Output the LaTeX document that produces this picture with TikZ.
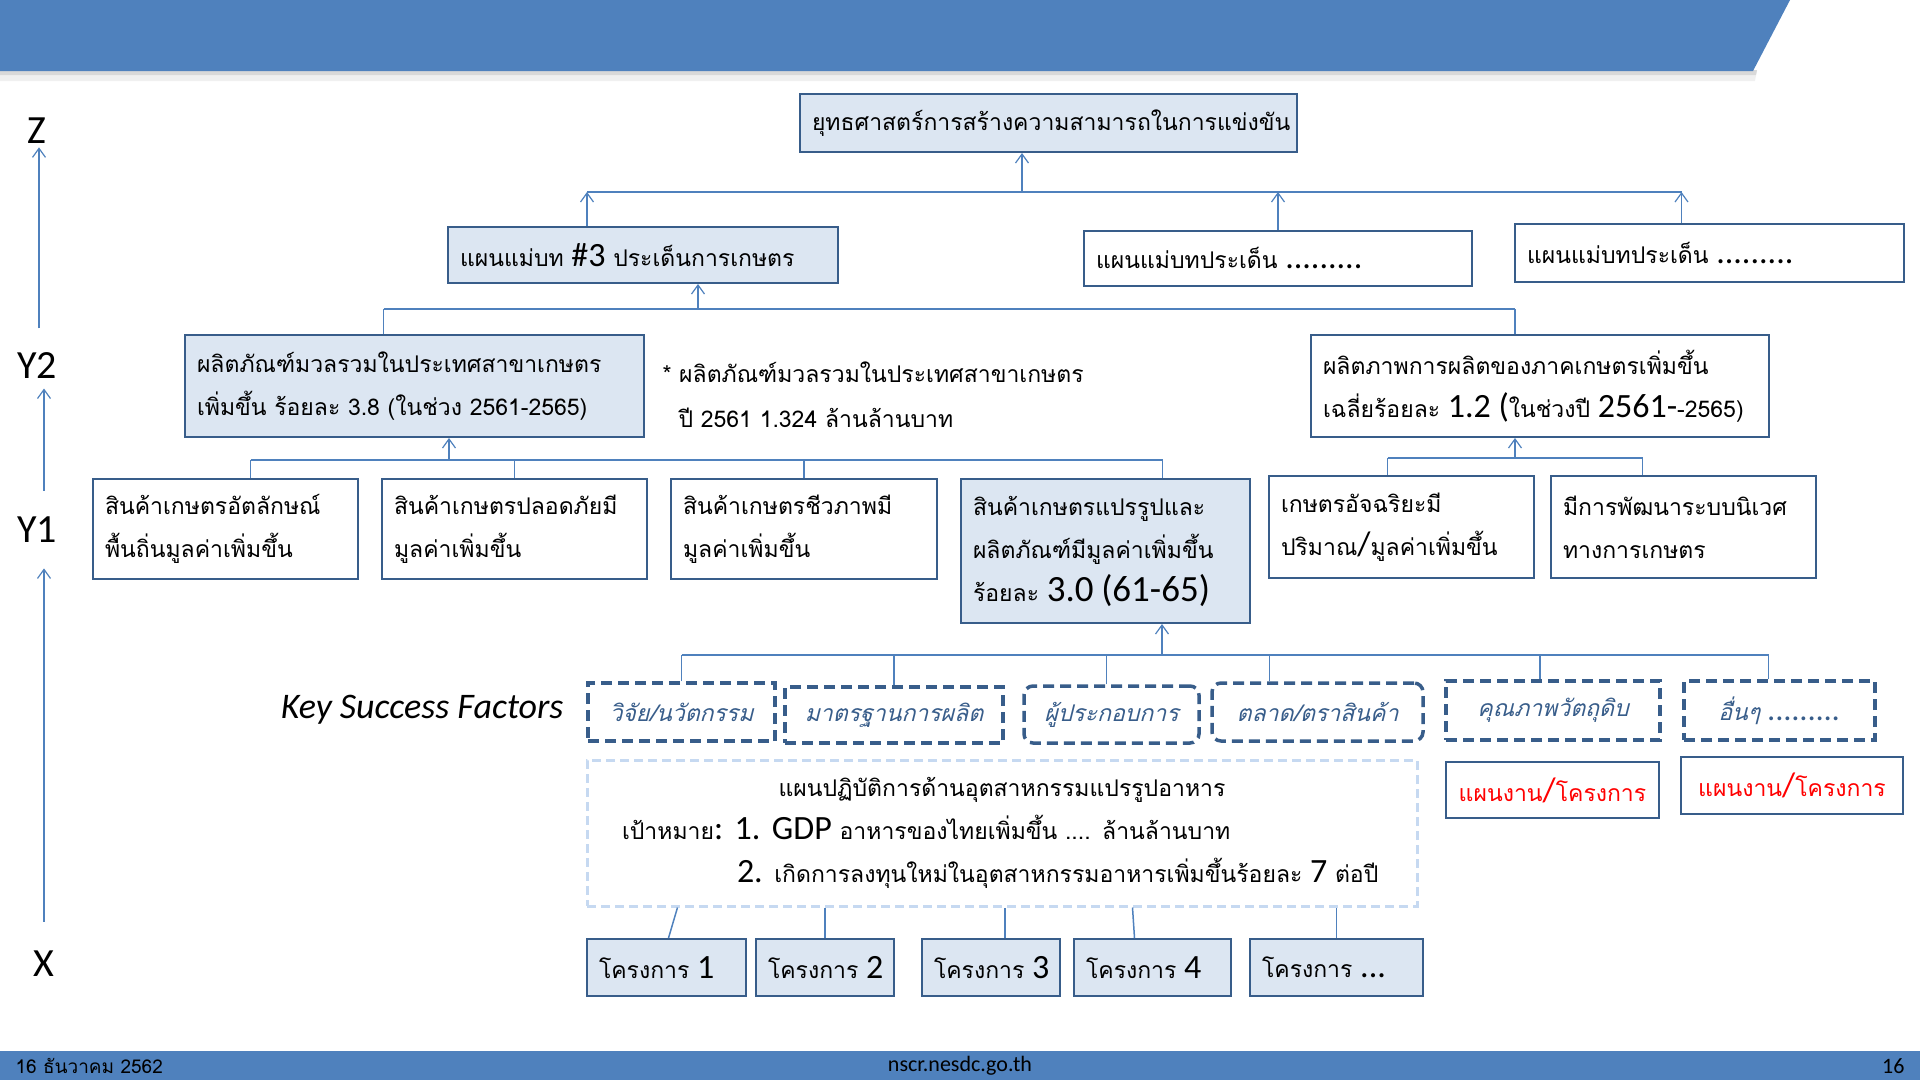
\documentclass[tikz,border=0pt]{standalone}
\usepackage{fontspec}
\setmainfont{Carlito}
\newfontfamily\thaifont[Script=Thai]{Loma}
\newfontfamily\thaislant[Script=Thai,FakeSlant=0.25]{Loma}
\usetikzlibrary{arrows.meta}
\definecolor{barblue}{HTML}{4F81BD}
\definecolor{edgeblue}{HTML}{385D8A}
\definecolor{paleblue}{HTML}{DCE6F2}
\definecolor{dashblue}{HTML}{C6D9F1}
\newcommand{\cali}[1]{{\rmfamily\fontsize{34}{43}\selectfont #1}}
\tikzset{
  plan box/.style={draw=edgeblue, line width=2pt, inner xsep=12pt, inner ysep=0pt,
    font=\thaifont\fontsize{23}{43}\selectfont, align=left},
  filled box/.style={plan box, fill=paleblue},
  factor box/.style={draw=edgeblue, line width=3.5pt, dash pattern=on 11pt off 6pt,
    font=\thaislant\fontsize{23}{30}\selectfont, text=edgeblue},
  task box/.style={plan box, align=center, text=red},
  axis label/.style={font=\rmfamily\fontsize{40}{40}\selectfont},
  foot/.style={font=\rmfamily\fontsize{22}{22}\selectfont},
  link/.style={draw=barblue, line width=1.5pt},
  >={Straight Barb[length=9pt,width=13pt,line width=1.2pt]},
}

\begin{document}
\begin{tikzpicture}[x=1pt,y=-1pt]
\useasboundingbox (0,0) rectangle (1920,1080);
\fill[gray!12] (0,70) -- (1757,70) -- (1755,81) -- (0,81) -- cycle;
\fill[gray!30] (0,70) -- (1757,70) -- (1756,75) -- (0,75) -- cycle;
\fill[barblue] (0,0) -- (1790,0) -- (1753,71) -- (0,71) -- cycle;
\fill[barblue] (0,1051) rectangle (1920,1080);
\node[foot, anchor=west] (date) at (12,1066) {\thaifont\fontsize{19}{19}\selectfont 16 ธันวาคม 2562};
\node[foot] (site) at (960,1066) {nscr.nesdc.go.th};
\node[foot, anchor=east] (page) at (1908,1066) {16};

\node[axis label] (z) at (37,131) {Z};
\node[axis label] (y2) at (37,366) {Y2};
\node[axis label] (y1) at (37,530) {Y1};
\node[axis label] (x) at (44,964) {X};
\draw[link,->,shorten <=21pt] ([xshift=2pt]y2.north) -- ([xshift=2pt]z.south);
\draw[link,->,shorten <=23pt,shorten >=6pt] ([xshift=7pt]y1.north) -- ([xshift=7pt]y1.north |- y2.south);
\draw[link,->,shorten <=26pt,shorten >=22pt] (x.north) -- (x.north |- y1.south);

\node[filled box, align=center, text width=473pt, minimum height=58pt] (top) at (1048.5,123) {ยุทธศาสตร์การสร้างความสามารถในการแข่งขัน};
\node[filled box, text width=366pt, minimum height=56pt] (b1) at (643,255) {แผนแม่บท \cali{\#3} ประเด็นการเกษตร};
\node[plan box, text width=364pt, minimum height=55pt] (b2) at (1278,258) {แผนแม่บทประเด็น \cali{.........}};
\node[plan box, text width=365pt, minimum height=58pt] (b3) at (1709.5,253) {แผนแม่บทประเด็น \cali{.........}};

\node[filled box, text width=435pt, minimum height=102pt] (c1) at (414.5,386) {ผลิตภัณฑ์มวลรวมในประเทศสาขาเกษตร\\เพิ่มขึ้น ร้อยละ 3.8 (ในช่วง 2561-2565)};
\node[anchor=west, align=left, font=\thaifont\fontsize{23}{45}\selectfont] (note) at (659,395) {* ผลิตภัณฑ์มวลรวมในประเทศสาขาเกษตร\\\hspace*{16pt}ปี 2561 1.324 ล้านล้านบาท};
\node[plan box, text width=434pt, minimum height=102pt] (c2) at (1540,386) {ผลิตภาพการผลิตของภาคเกษตรเพิ่มขึ้น\\เฉลี่ยร้อยละ \cali{1.2 (}ในช่วงปี \cali{2561-}-2565)};

\node[plan box, text width=241pt, minimum height=100pt] (d1) at (225.5,529) {สินค้าเกษตรอัตลักษณ์\\พื้นถิ่นมูลค่าเพิ่มขึ้น};
\node[plan box, text width=241pt, minimum height=100pt] (d2) at (514.5,529) {สินค้าเกษตรปลอดภัยมี\\มูลค่าเพิ่มขึ้น};
\node[plan box, text width=242pt, minimum height=100pt] (d3) at (804,529) {สินค้าเกษตรชีวภาพมี\\มูลค่าเพิ่มขึ้น};
\node[filled box, text width=265pt, minimum height=144pt] (d4) at (1105.5,551) {สินค้าเกษตรแปรรูปและ\\ผลิตภัณฑ์มีมูลค่าเพิ่มขึ้น\\ร้อยละ {\rmfamily\fontsize{37}{43}\selectfont 3.0 (61-65)}};
\node[plan box, text width=241pt, minimum height=102pt] (d5) at (1401.5,527) {เกษตรอัจฉริยะมี\\ปริมาณ\cali{/}มูลค่าเพิ่มขึ้น};
\node[plan box, text width=241pt, minimum height=102pt] (d6) at (1683.5,527) {มีการพัฒนาระบบนิเวศ\\ทางการเกษตร};

\node[anchor=east, font=\rmfamily\itshape\fontsize{36}{36}\selectfont] (ksf) at (567,710) {Key Success Factors};
\node[factor box, minimum width=187pt, minimum height=58pt] (e1) at (681.5,712) {วิจัย/นวัตกรรม};
\node[factor box, minimum width=218pt, minimum height=56pt] (e2) at (894,715) {มาตรฐานการผลิต};
\node[factor box, rounded corners=9pt, minimum width=175pt, minimum height=57pt] (e3) at (1111.5,714.5) {ผู้ประกอบการ};
\node[factor box, rounded corners=9pt, minimum width=211pt, minimum height=58pt] (e4) at (1317.5,712) {ตลาด/ตราสินค้า};
\node[factor box, minimum width=214pt, minimum height=59pt] (e5) at (1553,710.5) {คุณภาพวัตถุดิบ};
\node[factor box, minimum width=191pt, minimum height=59pt] (e6) at (1779.5,710.5) {อื่นๆ {\rmfamily\itshape\fontsize{32}{30}\selectfont .........}};

\node[task box, text width=189pt, minimum height=56pt] (f5) at (1552.5,790) {แผนงาน\cali{/}โครงการ};
\node[task box, text width=198pt, minimum height=57pt] (f6) at (1792,785.5) {แผนงาน\cali{/}โครงการ};

\node[draw=dashblue, line width=3pt, dash pattern=on 9pt off 5pt, inner xsep=15pt, inner ysep=0pt,
  text width=800pt, minimum height=146pt, align=left, font=\thaifont\fontsize{23}{43}\selectfont] (plan) at (1002,833)
  {\makebox[800pt]{แผนปฏิบัติการด้านอุตสาหกรรมแปรรูปอาหาร}\\
   \hspace*{20pt}เป้าหมาย\cali{: 1. GDP} อาหารของไทยเพิ่มขึ้น .... ล้านล้านบาท\\
   \hspace*{135pt}\cali{2.} เกิดการลงทุนใหม่ในอุตสาหกรรมอาหารเพิ่มขึ้นร้อยละ \cali{7} ต่อปี};

\node[filled box, text width=135pt, minimum height=57pt] (h1) at (666.5,967.5) {\mbox{โครงการ \cali{1}}};
\node[filled box, text width=114pt, minimum height=57pt] (h2) at (825,967.5) {\mbox{โครงการ \cali{2}}};
\node[filled box, text width=114pt, minimum height=57pt] (h3) at (991,967.5) {\mbox{โครงการ \cali{3}}};
\node[filled box, text width=133pt, minimum height=57pt] (h4) at (1152.5,967.5) {\mbox{โครงการ \cali{4}}};
\node[filled box, text width=149pt, minimum height=57pt] (h5) at (1336.5,967.5) {\mbox{โครงการ \cali{...}}};

\coordinate (bus a) at (1022,192);
\draw[link] ([xshift=-56pt]b1.north |- bus a) -- ([xshift=-28pt]b3.north |- bus a);
\draw[link,->] (bus a) -- (bus a |- top.south);
\draw[link,->] ([xshift=-56pt]b1.north) -- ([xshift=-56pt]b1.north |- bus a);
\draw[link,->] (b2.north) -- (b2.north |- bus a);
\draw[link,->] ([xshift=-28pt]b3.north) -- ([xshift=-28pt]b3.north |- bus a);

\coordinate (bus b) at (698,309);
\draw[link] ([xshift=-31pt]c1.north |- bus b) -- ([xshift=-25pt]c2.north |- bus b);
\draw[link] ([xshift=-31pt]c1.north) -- ([xshift=-31pt]c1.north |- bus b);
\draw[link] ([xshift=-25pt]c2.north) -- ([xshift=-25pt]c2.north |- bus b);
\draw[link,->] (bus b) -- (bus b |- b1.south);

\coordinate (bus c) at (449,460);
\draw[link] ([xshift=25pt]d1.north |- bus c) -- ([xshift=57pt]d4.north |- bus c);
\foreach \n/\s in {d1/25,d2/0,d3/0,d4/57}
  \draw[link] ([xshift=\s pt]\n.north) -- ([xshift=\s pt]\n.north |- bus c);
\draw[link,->] (bus c) -- (bus c |- c1.south);

\coordinate (bus d) at (1515,458);
\draw[link] ([xshift=-14pt]d5.north |- bus d) -- ([xshift=-41pt]d6.north |- bus d);
\foreach \n/\s in {d5/-14,d6/-41}
  \draw[link] ([xshift=\s pt]\n.north) -- ([xshift=\s pt]\n.north |- bus d);
\draw[link,->] (bus d) -- (bus d |- c2.south);

\coordinate (bus e) at (1162,655);
\draw[link] (e1.north |- bus e) -- ([xshift=-11pt]e6.north |- bus e);
\foreach \n/\s in {e1/0,e2/0,e3/-5,e4/-48,e5/-13,e6/-11}
  \draw[link] ([xshift=\s pt]\n.north) -- ([xshift=\s pt]\n.north |- bus e);
\draw[link,->] (bus e) -- (bus e |- d4.south);

\draw[link] ([xshift=2pt]h1.north) -- ([xshift=11pt]h1.north |- plan.south);
\draw[link] (h2.north) -- (h2.north |- plan.south);
\draw[link] ([xshift=14pt]h3.north) -- ([xshift=14pt]h3.north |- plan.south);
\draw[link] ([xshift=-18pt]h4.north) -- ([xshift=-20pt]h4.north |- plan.south);
\draw[link] (h5.north) -- (h5.north |- plan.south);
\end{tikzpicture}
\end{document}
